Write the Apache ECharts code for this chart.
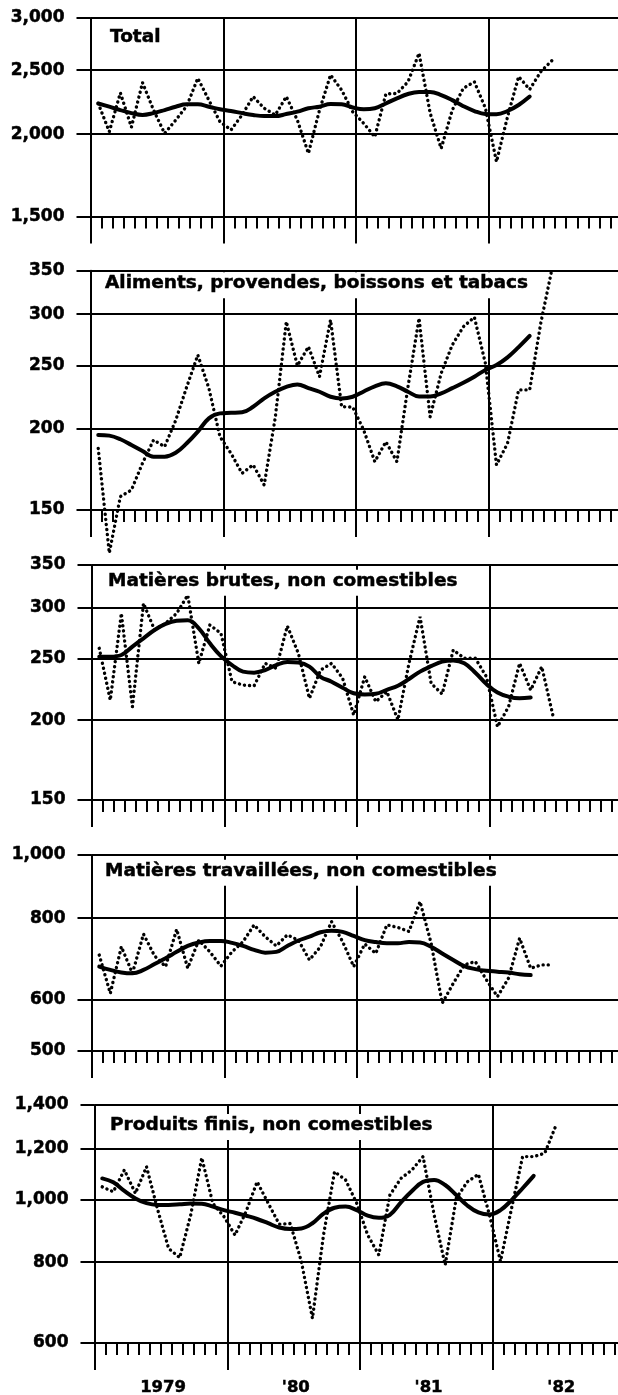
<!DOCTYPE html>
<html><head><meta charset="utf-8">
<script src="https://cdn.jsdelivr.net/npm/echarts@6/dist/echarts.min.js"></script>
<style>html,body{margin:0;padding:0;background:#fff}#c{width:618px;height:1395px}</style>
</head><body><div id="c"></div>
<script>
// ---------- data (monthly, Jan 1979 onward; log scales) ----------
const yearLabels = ["1979", "'80", "'81", "'82"];
const panelTitles = ["Total", "Aliments, provendes, boissons et tabacs", "Matières brutes, non comestibles",
  "Matières travaillées, non comestibles", "Produits finis, non comestibles"];

const totalTicks = [1500, 2000, 2500, 3000];
const foodTicks = [150, 200, 250, 300, 350];
const crudeTicks = [150, 200, 250, 300, 350];
const fabTicks = [500, 600, 800, 1000];
const endTicks = [600, 800, 1000, 1200, 1400];

const totalRaw = [2226, 2017, 2310, 2049, 2394, 2175, 2005, 2100, 2206, 2431, 2252, 2089, 2029, 2138, 2280, 2189, 2138, 2280, 2100, 1870, 2175, 2459, 2333, 2163, 2076, 1981, 2301, 2305, 2401, 2653, 2153, 1902, 2175, 2347, 2401, 2189, 1816, 2125, 2445, 2338, 2487, 2585];
const totalTrend = [2226, 2201, 2175, 2152, 2138, 2152, 2175, 2201, 2219, 2219, 2201, 2181, 2168, 2152, 2138, 2130, 2130, 2145, 2163, 2189, 2201, 2221, 2219, 2195, 2181, 2189, 2226, 2266, 2301, 2317, 2317, 2292, 2252, 2205, 2168, 2145, 2143, 2168, 2214, 2280];

const foodRaw = [186.6, 128.8, 157.3, 161, 177, 192.2, 187.7, 206, 232, 259.7, 230.9, 194.5, 183.3, 170.8, 176, 163.9, 208, 292.3, 250, 267.4, 240.5, 294, 216.2, 216, 199, 178, 191, 178, 232, 295.8, 208.7, 243.4, 269, 287, 296.9, 252, 176, 190, 229.5, 229.5, 290.5, 351];
const foodTrend = [195.7, 195.2, 192.7, 188.8, 184.8, 181.2, 181.2, 183.7, 190, 198, 207.5, 211.2, 211.6, 212, 216.2, 222.7, 228, 232, 234, 231, 228, 224, 222.7, 224, 228.2, 232.4, 234.9, 232.4, 228, 224.2, 224.2, 226.7, 230.9, 235.4, 240.5, 246.3, 250.6, 257.5, 267, 277.8];

const crudeRaw = [259.2, 215, 294, 210, 304.8, 276.9, 283.7, 294, 314, 245.5, 281.9, 273.6, 229.8, 227, 226.4, 245.5, 241.2, 280.9, 254.5, 216.4, 239.6, 245.5, 232.7, 203.8, 233.9, 213.8, 221.7, 200.2, 245.5, 290.4, 228.4, 219.8, 257.6, 250, 250, 233.9, 195.3, 210, 245.5, 222.9, 242.6, 203.8];
const crudeTrend = [251.5, 251.5, 253, 260.8, 268.7, 276.9, 283, 286.3, 286.8, 278.6, 263.9, 252, 244, 238.3, 237.4, 239.6, 244, 246.7, 246.2, 242.6, 233.9, 229.8, 224.8, 220.4, 219.5, 220, 223.2, 226.5, 232, 238.3, 243, 247, 248, 245.5, 237.4, 227.9, 221, 217.7, 216.4, 217];

const fabRaw = [702, 613, 723, 658, 756, 700, 674, 769, 670, 740, 710, 675, 710, 736, 781, 749, 725, 754, 740, 690, 723, 790, 736, 674, 730, 706, 781, 774, 763, 848, 732, 592, 635, 678, 686, 643, 606, 647, 745, 670, 678, 678];
const fabTrend = [674, 666, 660, 658, 666, 680, 694, 710, 725, 734, 738, 738, 733, 725, 715, 708, 710, 725, 739, 749, 761, 765, 762, 751, 740, 735, 732, 732, 735, 734, 723, 706, 690, 675, 668, 664, 662, 660, 656, 654];

const endRaw = [1046, 1028, 1111, 1022, 1124, 966, 840, 813, 947, 1160, 986, 941, 881, 958, 1065, 987, 916, 918, 802, 655, 881, 1104, 1072, 987, 881, 821, 1016, 1078, 1111, 1165, 947, 792, 1004, 1065, 1094, 947, 802, 969, 1165, 1165, 1179, 1300];
const endTrend = [1078, 1063, 1031, 1004, 987, 981, 981, 983, 986, 985, 975, 963, 954, 944, 933, 919, 905, 900, 902, 919, 951, 971, 975, 963, 944, 937, 947, 990, 1031, 1065, 1072, 1053, 1016, 979, 955, 948, 963, 998, 1041, 1088];

// ---------- layout ----------
const FONT = "'DejaVu Sans', sans-serif";
const MONTHS = 48;              // Jan 1979 .. Dec 1982
const PLOT_POS = 0.7;           // where each monthly figure sits inside its month
const monthTicks = Array.from({length: MONTHS}, (_, m) => m + 1);
const yearTicks = [0, 12, 24, 36, 48];
const yearLabelPos = [6.2, 18.2, 30.2, 42.2];

const panels = [
  {raw: totalRaw, trend: totalTrend, ticks: totalTicks, top: 18, height: 198.5, left: 90.5, tLeft: 106, tTop: 25.7},
  {raw: foodRaw, trend: foodTrend, ticks: foodTicks, top: 270.7, height: 239.3, left: 90.5, tLeft: 101, tTop: 272.3},
  {raw: crudeRaw, trend: crudeTrend, ticks: crudeTicks, top: 565, height: 235, left: 91.5, tLeft: 104, tTop: 569.7},
  {raw: fabRaw, trend: fabTrend, ticks: fabTicks, top: 855, height: 196, left: 91.5, tLeft: 101, tTop: 859.7},
  {raw: endRaw, trend: endTrend, ticks: endTicks, top: 1105, height: 238, left: 94.5, tLeft: 106, tTop: 1114}
];

const black = '#000';
const heavy = {color: black, fontFamily: FONT, fontWeight: 'bold', textBorderColor: black, textBorderWidth: 0.5};
const grids = [], xAxes = [], yAxes = [], series = [], titles = [];
panels.forEach((p, k) => {
  grids.push({left: p.left, top: p.top, width: 531, height: p.height, containLabel: false, outerBoundsMode: 'none'});
  const lo = p.ticks[0], hi = p.ticks[p.ticks.length - 1];
  yAxes.push({
    gridIndex: k, type: 'log', logBase: 10,
    min: lo * (1 - 1e-9), max: hi * (1 + 1e-9),
    axisLine: {show: true, lineStyle: {color: black, width: 2}},
    axisTick: {show: true, customValues: p.ticks, length: 14, lineStyle: {color: black, width: 2}},
    axisLabel: Object.assign({customValues: p.ticks, margin: 26, fontSize: 17,
      formatter: v => Math.round(v).toLocaleString('en-US')}, heavy),
    splitLine: {show: true, lineStyle: {color: black, width: 2}},
    minorTick: {show: false}, minorSplitLine: {show: false}
  });
  // monthly tick axis
  xAxes.push({
    gridIndex: k, type: 'value', min: 0, max: MONTHS, position: 'bottom',
    axisLine: {show: true, onZero: false, lineStyle: {color: black, width: 2}},
    axisTick: {show: true, customValues: monthTicks, length: 12, lineStyle: {color: black, width: 2}},
    axisLabel: {show: false}, splitLine: {show: false}
  });
  // year boundary axis
  xAxes.push({
    gridIndex: k, type: 'value', min: 0, max: MONTHS, position: 'bottom',
    axisLine: {show: false, onZero: false},
    axisTick: {show: true, customValues: yearTicks, length: 27, lineStyle: {color: black, width: 2}},
    axisLabel: k === panels.length - 1 ? Object.assign({
      show: true, customValues: yearLabelPos, margin: 36, fontSize: 16.5,
      formatter: v => yearLabels[Math.round((v - yearLabelPos[0]) / 12)]
    }, heavy) : {show: false},
    splitLine: {show: true, lineStyle: {color: black, width: 2}}
  });
  series.push({
    type: 'line', xAxisIndex: 2 * k, yAxisIndex: k, symbol: 'none', clip: false, z: 3,
    data: p.raw.map((v, i) => [i + PLOT_POS, v]),
    lineStyle: {color: black, width: 3.4, type: [0.1, 5], cap: 'round'}
  });
  series.push({
    type: 'line', xAxisIndex: 2 * k, yAxisIndex: k, symbol: 'none', clip: false, z: 4, smooth: 0.4,
    data: p.trend.map((v, i) => [i + PLOT_POS, v]),
    lineStyle: {color: black, width: 4, cap: 'round'}
  });
  titles.push({
    text: panelTitles[k], left: p.tLeft, top: p.tTop, padding: [1, 4, 5, 4], backgroundColor: '#fff',
    textStyle: Object.assign({fontSize: 18.5, lineHeight: 20}, heavy)
  });
});

const chart = echarts.init(document.getElementById('c'), null, {renderer: 'canvas'});
chart.setOption({
  animation: false, backgroundColor: '#fff',
  title: titles, grid: grids, xAxis: xAxes, yAxis: yAxes, series: series
});
</script></body></html>
